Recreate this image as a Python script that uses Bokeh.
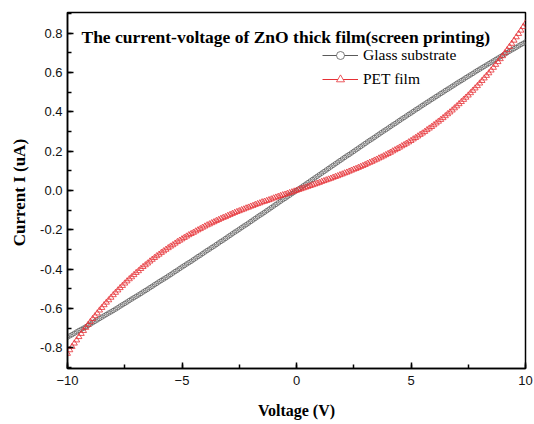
from bokeh.plotting import figure
from bokeh.models import (SingleIntervalTicker, Label, Legend, LegendItem, Range1d,
                          NumeralTickFormatter)
from bokeh.embed import file_html
from bokeh.resources import INLINE

title_text = "The current-voltage of  ZnO thick film(screen printing)"
x_label = "Voltage (V)"
y_label = "Current  I (uA)"
series_names = ["Glass substrate", "PET film"]

voltage = [
    -10.0, -9.9, -9.8, -9.7, -9.6, -9.5, -9.4, -9.3, -9.2, -9.1,
    -9.0, -8.9, -8.8, -8.7, -8.6, -8.5, -8.4, -8.3, -8.2, -8.1,
    -8.0, -7.9, -7.8, -7.7, -7.6, -7.5, -7.4, -7.3, -7.2, -7.1,
    -7.0, -6.9, -6.8, -6.7, -6.6, -6.5, -6.4, -6.3, -6.2, -6.1,
    -6.0, -5.9, -5.8, -5.7, -5.6, -5.5, -5.4, -5.3, -5.2, -5.1,
    -5.0, -4.9, -4.8, -4.7, -4.6, -4.5, -4.4, -4.3, -4.2, -4.1,
    -4.0, -3.9, -3.8, -3.7, -3.6, -3.5, -3.4, -3.3, -3.2, -3.1,
    -3.0, -2.9, -2.8, -2.7, -2.6, -2.5, -2.4, -2.3, -2.2, -2.1,
    -2.0, -1.9, -1.8, -1.7, -1.6, -1.5, -1.4, -1.3, -1.2, -1.1,
    -1.0, -0.9, -0.8, -0.7, -0.6, -0.5, -0.4, -0.3, -0.2, -0.1,
    0.0,
    0.1, 0.2, 0.3, 0.4, 0.5, 0.6, 0.7, 0.8, 0.9, 1.0,
    1.1, 1.2, 1.3, 1.4, 1.5, 1.6, 1.7, 1.8, 1.9, 2.0,
    2.1, 2.2, 2.3, 2.4, 2.5, 2.6, 2.7, 2.8, 2.9, 3.0,
    3.1, 3.2, 3.3, 3.4, 3.5, 3.6, 3.7, 3.8, 3.9, 4.0,
    4.1, 4.2, 4.3, 4.4, 4.5, 4.6, 4.7, 4.8, 4.9, 5.0,
    5.1, 5.2, 5.3, 5.4, 5.5, 5.6, 5.7, 5.8, 5.9, 6.0,
    6.1, 6.2, 6.3, 6.4, 6.5, 6.6, 6.7, 6.8, 6.9, 7.0,
    7.1, 7.2, 7.3, 7.4, 7.5, 7.6, 7.7, 7.8, 7.9, 8.0,
    8.1, 8.2, 8.3, 8.4, 8.5, 8.6, 8.7, 8.8, 8.9, 9.0,
    9.1, 9.2, 9.3, 9.4, 9.5, 9.6, 9.7, 9.8, 9.9, 10.0,
]

glass_current = [
    -0.746, -0.739, -0.733, -0.726, -0.719, -0.712, -0.706, -0.700, -0.693, -0.686,
    -0.679, -0.672, -0.665, -0.658, -0.651, -0.644, -0.637, -0.630, -0.623, -0.617,
    -0.610, -0.603, -0.596, -0.588, -0.581, -0.574, -0.567, -0.559, -0.552, -0.545,
    -0.538, -0.531, -0.524, -0.516, -0.509, -0.502, -0.494, -0.487, -0.479, -0.472,
    -0.464, -0.457, -0.450, -0.443, -0.435, -0.428, -0.420, -0.412, -0.405, -0.397,
    -0.389, -0.382, -0.374, -0.367, -0.360, -0.352, -0.344, -0.336, -0.329, -0.321,
    -0.313, -0.305, -0.298, -0.290, -0.283, -0.275, -0.267, -0.259, -0.252, -0.244,
    -0.236, -0.228, -0.220, -0.212, -0.205, -0.197, -0.189, -0.181, -0.174, -0.166,
    -0.158, -0.150, -0.142, -0.134, -0.126, -0.119, -0.111, -0.103, -0.095, -0.087,
    -0.079, -0.071, -0.063, -0.055, -0.047, -0.040, -0.032, -0.024, -0.016, -0.008,
    0.000,
    0.008, 0.016, 0.024, 0.032, 0.040, 0.048, 0.056, 0.064, 0.072, 0.080,
    0.088, 0.096, 0.104, 0.112, 0.120, 0.128, 0.136, 0.144, 0.152, 0.160,
    0.168, 0.176, 0.183, 0.191, 0.199, 0.207, 0.215, 0.223, 0.231, 0.239,
    0.247, 0.255, 0.262, 0.270, 0.278, 0.286, 0.294, 0.302, 0.309, 0.317,
    0.325, 0.333, 0.340, 0.348, 0.356, 0.364, 0.371, 0.379, 0.387, 0.394,
    0.402, 0.410, 0.417, 0.425, 0.433, 0.440, 0.448, 0.455, 0.463, 0.470,
    0.478, 0.485, 0.493, 0.500, 0.508, 0.515, 0.522, 0.530, 0.537, 0.545,
    0.552, 0.559, 0.566, 0.574, 0.581, 0.588, 0.595, 0.603, 0.610, 0.617,
    0.624, 0.631, 0.638, 0.645, 0.652, 0.659, 0.666, 0.673, 0.680, 0.687,
    0.694, 0.701, 0.708, 0.715, 0.721, 0.728, 0.735, 0.742, 0.748, 0.755,
]

pet_current = [
    -0.829, -0.811, -0.794, -0.777, -0.761, -0.744, -0.728, -0.713, -0.697, -0.682,
    -0.667, -0.652, -0.638, -0.624, -0.609, -0.596, -0.582, -0.569, -0.557, -0.544,
    -0.531, -0.519, -0.507, -0.495, -0.484, -0.472, -0.461, -0.450, -0.440, -0.429,
    -0.418, -0.409, -0.398, -0.388, -0.379, -0.370, -0.360, -0.351, -0.342, -0.333,
    -0.325, -0.316, -0.308, -0.300, -0.292, -0.284, -0.277, -0.269, -0.261, -0.254,
    -0.247, -0.240, -0.233, -0.226, -0.220, -0.214, -0.207, -0.201, -0.195, -0.188,
    -0.182, -0.176, -0.171, -0.165, -0.160, -0.154, -0.149, -0.143, -0.138, -0.134,
    -0.128, -0.123, -0.118, -0.113, -0.108, -0.104, -0.099, -0.095, -0.090, -0.086,
    -0.081, -0.077, -0.072, -0.068, -0.064, -0.059, -0.056, -0.052, -0.048, -0.044,
    -0.039, -0.035, -0.031, -0.027, -0.023, -0.020, -0.016, -0.012, -0.008, -0.004,
    0.000,
    0.004, 0.008, 0.012, 0.016, 0.020, 0.024, 0.028, 0.032, 0.036, 0.040,
    0.045, 0.049, 0.053, 0.057, 0.061, 0.066, 0.070, 0.074, 0.079, 0.083,
    0.088, 0.092, 0.097, 0.102, 0.107, 0.111, 0.116, 0.121, 0.126, 0.131,
    0.137, 0.142, 0.147, 0.153, 0.158, 0.164, 0.169, 0.175, 0.181, 0.187,
    0.193, 0.200, 0.206, 0.212, 0.219, 0.226, 0.232, 0.239, 0.246, 0.253,
    0.261, 0.268, 0.276, 0.284, 0.291, 0.299, 0.308, 0.316, 0.324, 0.333,
    0.342, 0.351, 0.360, 0.369, 0.379, 0.389, 0.398, 0.408, 0.419, 0.429,
    0.440, 0.451, 0.462, 0.473, 0.484, 0.496, 0.508, 0.520, 0.532, 0.545,
    0.558, 0.571, 0.584, 0.597, 0.611, 0.625, 0.640, 0.654, 0.669, 0.684,
    0.699, 0.715, 0.731, 0.747, 0.763, 0.780, 0.797, 0.814, 0.832, 0.850,
]

GLASS_COLOR = "#5a5a5a"
PET_COLOR = "#e63035"
SERIF = "Liberation Serif"
SANS = "Liberation Sans"
NAN = [float("nan")]

p = figure(width=534, height=424, output_backend="svg", toolbar_location=None,
           x_range=Range1d(-10, 10), y_range=Range1d(-0.905, 0.905),
           min_border_left=67, min_border_right=9, min_border_top=12,
           min_border_bottom=56)
p.background_fill_color = "white"
p.border_fill_color = "white"
p.outline_line_color = "black"
p.outline_line_width = 1.5
p.xgrid.grid_line_color = None
p.ygrid.grid_line_color = None

for ax in (p.xaxis[0], p.yaxis[0]):
    ax.axis_line_width = 1.5
    ax.major_tick_in = 6
    ax.major_tick_out = 0
    ax.minor_tick_in = 4
    ax.minor_tick_out = 0
    ax.major_tick_line_width = 1.5
    ax.minor_tick_line_width = 1.5
    ax.major_label_text_font = SANS
    ax.major_label_text_font_size = "13px"
    ax.major_label_text_color = "#111111"
    ax.axis_label_text_font = SERIF
    ax.axis_label_text_font_style = "bold"
    ax.axis_label_text_color = "black"
    ax.axis_label_text_font_size = "16px"

p.xaxis[0].ticker = SingleIntervalTicker(interval=5, num_minor_ticks=2)
p.yaxis[0].ticker = SingleIntervalTicker(interval=0.2, num_minor_ticks=2)
p.yaxis[0].formatter = NumeralTickFormatter(format="0.0")
p.xaxis[0].major_label_standoff = 7
p.yaxis[0].major_label_standoff = 5

p.xaxis[0].axis_label = x_label
p.xaxis[0].axis_label_standoff = 14

p.yaxis[0].axis_label = y_label
p.yaxis[0].axis_label_text_font_size = "17px"
p.yaxis[0].axis_label_standoff = 8

# data
p.scatter(voltage, glass_current, marker="circle", size=4.5, fill_color=None,
          line_color=GLASS_COLOR, line_width=0.8)
p.scatter(voltage, pet_current, marker="triangle", size=6, fill_color=None,
          line_color=PET_COLOR, line_width=0.8)

# legend proxies (NaN data, draw nothing in the plot)
g_line = p.line(NAN, NAN, line_color=GLASS_COLOR, line_width=1)
g_mark = p.scatter(NAN, NAN, marker="circle", size=5, fill_color="white",
                   line_color=GLASS_COLOR, line_width=0.8)
r_line = p.line(NAN, NAN, line_color=PET_COLOR, line_width=1)
r_mark = p.scatter(NAN, NAN, marker="triangle", size=7, fill_color="white",
                   line_color=PET_COLOR, line_width=0.8)

legend = Legend(items=[
    LegendItem(label=series_names[0], renderers=[g_line, g_mark]),
    LegendItem(label=series_names[1], renderers=[r_line, r_mark]),
], location=(255, 279))
legend.padding = 0
legend.margin = 0
legend.spacing = 4
legend.glyph_width = 36
legend.glyph_height = 20
legend.label_height = 20
legend.label_standoff = 5
legend.label_text_font = SERIF
legend.label_text_font_size = "15.5px"
legend.label_text_color = "black"
legend.background_fill_alpha = 0
legend.border_line_color = None
p.add_layout(legend)

# title inside plot
p.add_layout(Label(x=-9.39, y=0.782, text=title_text, text_font=SERIF,
                   text_font_style="bold", text_font_size="17.5px",
                   text_color="black", text_baseline="alphabetic",
                   text_align="left"))

open("out.html", "w").write(file_html(p, INLINE))
